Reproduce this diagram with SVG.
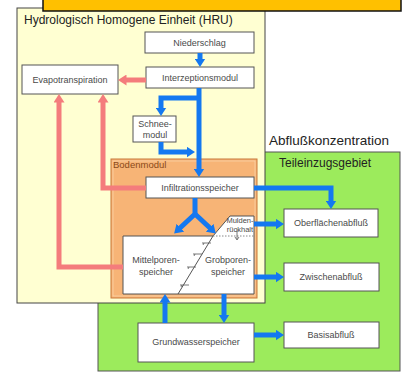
<svg xmlns="http://www.w3.org/2000/svg" width="405" height="373" viewBox="0 0 405 373">
<style>
.box{fill:#fff;stroke:#555;stroke-width:1}
.t{font-family:"Liberation Sans",Arial,sans-serif;font-size:9px;fill:#4a4a4a;text-anchor:middle}
.ts{font-family:"Liberation Sans",Arial,sans-serif;font-size:7.5px;fill:#4a4a4a;text-anchor:middle}
.blue{fill:none;stroke:#1478F0;stroke-width:5}
.red{fill:none;stroke:#F47C7C;stroke-width:5}
.title{font-family:"Liberation Sans",Arial,sans-serif;fill:#222}
</style>
<defs>
<marker id="ab" markerWidth="10" markerHeight="11" refX="0.5" refY="5.5" orient="auto" markerUnits="userSpaceOnUse"><path d="M0,0 L8.5,5.5 L0,11 z" fill="#1478F0"/></marker>
<marker id="ar" markerWidth="10" markerHeight="11" refX="0.5" refY="5.5" orient="auto" markerUnits="userSpaceOnUse"><path d="M0,0 L8.5,5.5 L0,11 z" fill="#F47C7C"/></marker>
</defs>
<rect width="405" height="373" fill="#fff"/>
<g id="teileinzugsgebiet">
<rect x="98" y="152" width="302" height="219" fill="#9CEB5C" stroke="#555" stroke-width="1"/>
<text class="title" x="269" y="145" font-size="13.5">Abflußkonzentration</text>
<text class="title" x="279" y="167" font-size="12">Teileinzugsgebiet</text>
</g>
<g id="hru">
<rect x="17" y="8" width="248" height="295" fill="#FFFFD2" stroke="#444" stroke-width="1"/>
<text class="title" x="24" y="24" font-size="12">Hydrologisch Homogene Einheit (HRU)</text>
</g>
<g id="banner">
<rect x="43" y="-2" width="358" height="13" fill="#FFC000" stroke="#111" stroke-width="1.5"/>
</g>
<g id="bodenmodul">
<rect x="111" y="159" width="146" height="139" fill="#F7B476" stroke="#C8783A" stroke-width="1"/>
<rect x="113" y="161" width="142" height="135" fill="none" stroke="#FBD3A8" stroke-width="0.8"/>
<text x="113" y="168" font-family="Liberation Sans, Arial, sans-serif" font-size="9.5" fill="#8A4A1A">Bodenmodul</text>
</g>
<g id="niederschlag"><rect class="box" x="145" y="32" width="109" height="21"/><text class="t" x="199.5" y="46">Niederschlag</text></g>
<g id="interzeptionsmodul"><rect class="box" x="146" y="67" width="108" height="21"/><text class="t" x="200" y="81">Interzeptionsmodul</text></g>
<g id="evapotranspiration"><rect class="box" x="22" y="65" width="96" height="29"/><text class="t" x="70" y="83">Evapotranspiration</text></g>
<g id="schneemodul"><rect class="box" x="133" y="116" width="43" height="26"/><text class="t" x="155" y="127">Schnee-</text><text class="t" x="155" y="138">modul</text></g>
<g id="infiltrationsspeicher"><rect class="box" x="146" y="177" width="108" height="21"/><text class="t" x="200" y="191">Infiltrationsspeicher</text></g>
<g id="porenspeicher">
<path class="box" d="M123,236 H213 L230,216 H254 V294 H123 Z"/>
<line x1="213" y1="236" x2="254" y2="236" stroke="#888" stroke-width="1" stroke-dasharray="1.5,1.5"/>
<path d="M237,229 V239 M235,237 L237,240 L239,237" fill="none" stroke="#555" stroke-width="0.8"/>
<line x1="213" y1="236" x2="178" y2="294" stroke="#555" stroke-width="1"/>
<path d="M202,243 h9 M204,243 l-1,2 M193,254 h9 M195,254 l-1,2 M187,267 h9 M189,267 l-1,2 M180,285 h9 M182,285 l-1,2" fill="none" stroke="#555" stroke-width="0.8"/>
<text class="t" x="156" y="263">Mittelporen-</text><text class="t" x="156" y="275">speicher</text>
<text class="t" x="228" y="263">Grobporen-</text><text class="t" x="228" y="275">speicher</text>
<text class="ts" x="240" y="223">Mulden-</text><text class="ts" x="240" y="232">rückhalt</text>
</g>
<g id="oberflaechenabfluss"><rect class="box" x="284" y="209" width="94" height="28"/><text class="t" x="331" y="226">Oberflächenabfluß</text></g>
<g id="zwischenabfluss"><rect class="box" x="284" y="263" width="95" height="28"/><text class="t" x="331" y="280">Zwischenabfluß</text></g>
<g id="basisabfluss"><rect class="box" x="284" y="322" width="95" height="26"/><text class="t" x="331" y="338">Basisabfluß</text></g>
<g id="grundwasserspeicher"><rect class="box" x="138" y="323" width="116" height="39"/><text class="t" x="196" y="345">Grundwasserspeicher</text></g>
<g id="connectors">
<path class="blue" d="M200,53 V59" marker-end="url(#ab)"/>
<path class="blue" d="M199,88 V169" marker-end="url(#ab)"/>
<path class="blue" d="M199,98 H161 V108" marker-end="url(#ab)"/>
<path class="blue" d="M161,142 V152 H187" marker-end="url(#ab)"/>
<path class="blue" d="M254,188 H331 V201" marker-end="url(#ab)"/>
<path class="blue" d="M195,198 V214 L180,228" marker-end="url(#ab)"/>
<path class="blue" d="M195,214 L210,228" marker-end="url(#ab)"/>
<path class="blue" d="M254,224 H276" marker-end="url(#ab)"/>
<path class="blue" d="M254,277 H276" marker-end="url(#ab)"/>
<path class="blue" d="M254,335 H276" marker-end="url(#ab)"/>
<path class="blue" d="M165,323 V302" marker-end="url(#ab)"/>
<path class="blue" d="M224,294 V315" marker-end="url(#ab)"/>
<path class="red" d="M146,80 H126" marker-end="url(#ar)"/>
<path class="red" d="M146,188 H103 V102" marker-end="url(#ar)"/>
<path class="red" d="M123,267 H59 V102" marker-end="url(#ar)"/>
</g>
</svg>
